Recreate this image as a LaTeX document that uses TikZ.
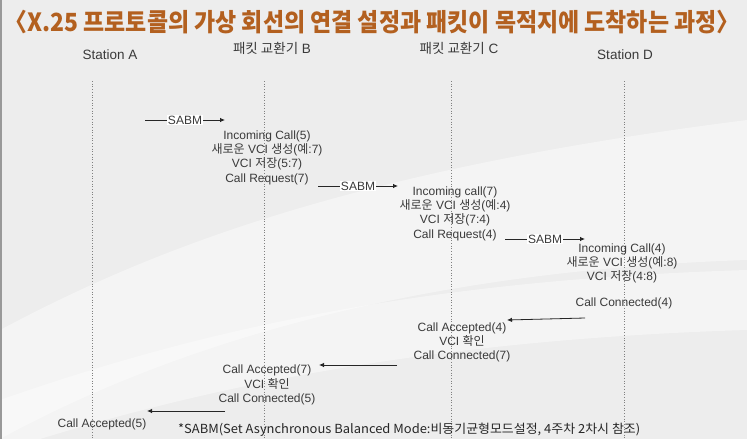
\documentclass[tikz,border=0pt]{standalone}
\usepackage{fontspec}
\usepackage{graphicx}
\setmainfont{Liberation Sans}
\newfontfamily\kr{Noto Sans CJK KR}
\newcommand\K[1]{{\kr #1}}
\usetikzlibrary{arrows.meta}
\definecolor{titlec}{HTML}{B3601F}
\definecolor{txt}{HTML}{3A3A3A}
\definecolor{bgc}{HTML}{EDEDED}
\begin{document}
\begin{tikzpicture}[x=1pt,y=-1pt,
  lbl/.style={font=\fontsize{12}{14.3}\selectfont, text=txt, align=center, inner sep=0pt},
  hdr/.style={font=\fontsize{13.5}{15}\selectfont, text=txt, inner sep=0pt},
  life/.style={draw=black!50, dotted, line width=0.7pt},
  msg/.style={draw=black!85, line width=0.8pt, -{Latex[length=5pt,width=4.5pt]}},
  tag/.style={fill=white, inner sep=1.2pt, font=\fontsize{12}{13}\selectfont, text=txt}]
% background
\fill[bgc] (0,0) rectangle (747,439);
\useasboundingbox (0,0) rectangle (747,439);
\fill[white, opacity=0.4] (0,330) .. controls (150,250) and (350,170) .. (747,120)
  -- (747,260) .. controls (450,270) and (200,330) .. (0,439) -- cycle;
\fill[white, opacity=0.4] (0,400) .. controls (200,330) and (420,280) .. (747,270)
  -- (747,330) .. controls (420,340) and (200,390) .. (40,439) -- (0,439) -- cycle;
\draw[black!40, line width=1.5pt] (1,0) -- (1,439);
% title
\node[text=titlec, inner sep=0pt] (title) at (372,22)
  {\resizebox{735pt}{\height}{\kr\bfseries\fontsize{25}{28}\selectfont 〈X.25 프로토콜의 가상 회선의 연결 설정과 패킷이 목적지에 도착하는 과정〉}};
% headers
\node[hdr] (hA) at (110,55) {Station A};
\node[hdr] (hB) at (272,48) {\K{패킷 교환기} B};
\node[hdr] (hC) at (459,48) {\K{패킷 교환기} C};
\node[hdr] (hD) at (625,55) {Station D};
% lifelines
\foreach \n/\x in {a/92,b/264,c/451,d/624}{
  \coordinate (\n T) at (\x,81);
  \coordinate (\n B) at (\x,439);
  \draw[life] (\n T) -- (\n B);
}
% messages
\coordinate (m1s) at (145,120); \coordinate (m1e) at (225,120);
\draw[msg] (m1s) -- node[tag] (s1) {SABM} (m1e);
\coordinate (m2s) at (318,186); \coordinate (m2e) at (398,186);
\draw[msg] (m2s) -- node[tag] (s2) {SABM} (m2e);
\coordinate (m3s) at (505,239); \coordinate (m3e) at (585,239);
\draw[msg] (m3s) -- node[tag] (s3) {SABM} (m3e);
\coordinate (m4s) at (585,318); \coordinate (m4e) at (507,320);
\draw[msg] (m4s) -- (m4e);
\coordinate (m5s) at (397,365); \coordinate (m5e) at (319,365);
\draw[msg] (m5s) -- (m5e);
\coordinate (m6s) at (225,411); \coordinate (m6e) at (147,411);
\draw[msg] (m6s) -- (m6e);
% text blocks
\node[lbl] (b1) at (267,157.5) {Incoming Call(5)\\\K{새로운} VCI \K{생성}(\K{예}:7)\\VCI \K{저장}(5:7)\\Call Request(7)};
\node[lbl] (c1) at (455,213.5) {Incoming call(7)\\\K{새로운} VCI \K{생성}(\K{예}:4)\\VCI \K{저장}(7:4)\\Call Request(4)};
\node[lbl] (d1) at (622,263.5) {Incoming Call(4)\\\K{새로운} VCI \K{생성}(\K{예}:8)\\VCI \K{저장}(4:8)};
\node[lbl] (d2) at (624,303) {Call Connected(4)};
\node[lbl] (c2) at (462,342.5) {Call Accepted(4)\\VCI \K{확인}\\Call Connected(7)};
\node[lbl] (b2) at (267,385) {Call Accepted(7)\\VCI \K{확인}\\Call Connected(5)};
\node[lbl] (a2) at (102,424) {Call Accepted(5)};
% footnote
\node[anchor=west, inner sep=0pt, text=black!85] (note) at (178,430)
  {\resizebox{462pt}{\height}{\kr\fontsize{12.5}{14}\selectfont *SABM(Set Asynchronous Balanced Mode:비동기균형모드설정, 4주차 2차시 참조)}};
\end{tikzpicture}
\end{document}
